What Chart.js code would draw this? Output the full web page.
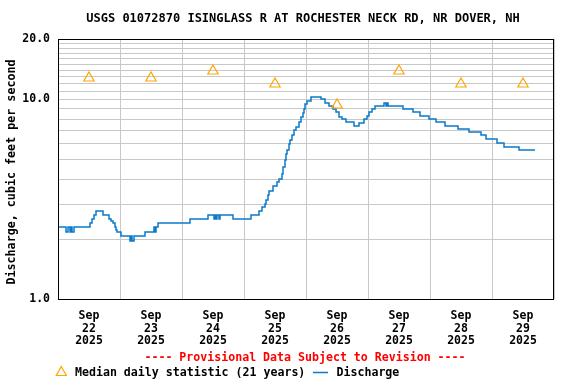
<!DOCTYPE html>
<html>
<head>
<meta charset="utf-8">
<script src="https://cdn.jsdelivr.net/npm/chart.js@4/dist/chart.umd.min.js"></script>
<style>
  html, body { margin: 0; padding: 0; background: #fff; }
  #wrap { width: 576px; height: 384px; }
</style>
</head>
<body>
<div id="wrap"><canvas id="chart" width="576" height="384"></canvas></div>
<script>
// hours since Sep 22 00:00, value holds until the next reading
const hours = [0, 3.1, 3.9, 4.6, 5.2, 5.6, 6.2, 12.4, 13.2, 13.9, 14.7, 17.4, 19.7, 20.5, 21.3, 22.1, 22.5, 23.0,
  24.2, 27.9, 28.4, 28.8, 29.4, 33.7, 37.2, 37.5, 37.9, 38.7, 51.1, 58.1, 60.4, 60.8, 61.2, 61.5, 62.3, 62.7,
  67.7, 74.7, 77.8, 79.0, 80.1, 80.5, 81.1, 81.7, 83.2, 84.7, 85.7, 86.7, 87.2, 87.8, 88.3, 88.6, 89.3, 89.8,
  90.6, 91.4, 92.1, 93.2, 94.0, 94.7, 95.2, 95.7, 96.5, 98.1, 101.7, 103.5, 105.0, 106.3, 107.6, 108.9, 109.9,
  111.5, 114.6, 116.4, 118.5, 119.5, 120.3, 121.5, 122.7, 126.2, 126.8, 127.2, 127.7, 133.4, 137.4, 140.1,
  143.5, 146.3, 149.7, 154.8, 159.2, 163.6, 165.7, 170.1, 172.6, 178.3, 184.5];
const discharge = [2.28, 2.16, 2.28, 2.16, 2.28, 2.16, 2.28, 2.39, 2.50, 2.64, 2.75, 2.62, 2.50, 2.45, 2.39, 2.28, 2.21, 2.16,
  2.07, 1.94, 2.07, 1.94, 2.07, 2.16, 2.28, 2.16, 2.28, 2.39, 2.50, 2.62, 2.50, 2.62, 2.50, 2.62, 2.50, 2.62,
  2.50, 2.62, 2.75, 2.88, 3.00, 3.13, 3.32, 3.48, 3.67, 3.85, 4.00, 4.22, 4.56, 4.96, 5.30, 5.56, 5.97, 6.24,
  6.64, 7.00, 7.28, 7.69, 8.10, 8.55, 8.95, 9.45, 9.80, 10.2, 9.98, 9.53, 9.22, 8.90, 8.60, 8.17, 7.93,
  7.69, 7.33, 7.60, 7.93, 8.23, 8.60, 8.90, 9.22, 9.53, 9.22, 9.53, 9.22, 8.90, 8.60, 8.23,
  7.93, 7.69, 7.33, 7.07, 6.85, 6.59, 6.34, 6.00, 5.74, 5.56, 5.56];

const medianHours = [12, 36, 60, 84, 108, 132, 156, 180];
const medianValues = [12.8, 12.8, 13.9, 11.9, 9.4, 13.9, 11.9, 11.9];

const dayLabels = [['Sep', '22', '2025'], ['Sep', '23', '2025'], ['Sep', '24', '2025'], ['Sep', '25', '2025'],
  ['Sep', '26', '2025'], ['Sep', '27', '2025'], ['Sep', '28', '2025'], ['Sep', '29', '2025']];
const yTickValues = [1, 2, 3, 4, 5, 6, 7, 8, 9, 10, 11, 12, 13, 14, 15, 16, 17, 18, 19, 20];
const yLabelled = { 1: '1.0', 10: '10.0', 20: '20.0' };

const FONT = "'DejaVu Sans Mono', 'Liberation Mono', monospace";
const BLUE = '#0a7ac8';
const ORANGE = '#ffa500';

Chart.defaults.font.family = FONT;
Chart.defaults.font.size = 11.5;
Chart.defaults.font.weight = 'bold';
Chart.defaults.color = '#000';

// titles, legend and frame
const decorations = {
  id: 'decorations',
  afterDraw(chart) {
    const ctx = chart.ctx;
    const a = chart.chartArea;
    ctx.save();
    ctx.strokeStyle = '#000';
    ctx.lineWidth = 1;
    ctx.strokeRect(a.left + 0.5, a.top + 0.5, a.right - a.left - 1, a.bottom - a.top);

    ctx.textBaseline = 'middle';
    ctx.fillStyle = '#000';
    ctx.textAlign = 'center';
    ctx.font = 'bold 12px ' + FONT;
    ctx.fillText('USGS 01072870 ISINGLASS R AT ROCHESTER NECK RD, NR DOVER, NH', 303, 19);

    ctx.font = 'bold 11.6px ' + FONT;
    ctx.fillStyle = '#ff0000';
    ctx.fillText('---- Provisional Data Subject to Revision ----', 305, 358);

    ctx.save();
    ctx.translate(12, 172);
    ctx.rotate(-Math.PI / 2);
    ctx.fillStyle = '#000';
    ctx.font = 'bold 11.7px ' + FONT;
    ctx.fillText('Discharge, cubic feet per second', 0, 0);
    ctx.restore();

    // legend
    ctx.textAlign = 'left';
    ctx.fillStyle = '#000';
    ctx.strokeStyle = ORANGE;
    ctx.lineWidth = 1.2;
    ctx.beginPath();
    ctx.moveTo(61.3, 366.5); ctx.lineTo(66.3, 375.5); ctx.lineTo(56.3, 375.5); ctx.closePath();
    ctx.stroke();
    ctx.fillText('Median daily statistic (21 years)', 75, 373);
    ctx.strokeStyle = BLUE;
    ctx.lineWidth = 1.5;
    ctx.beginPath();
    ctx.moveTo(313, 372.5); ctx.lineTo(328, 372.5);
    ctx.stroke();
    ctx.fillText('Discharge', 336.5, 373);
    ctx.restore();
  }
};

new Chart(document.getElementById('chart'), {
  type: 'line',
  data: {
    datasets: [
      {
        label: 'Median daily statistic (21 years)',
        data: medianHours.map((h, i) => ({ x: h, y: medianValues[i] })),
        showLine: false,
        pointStyle: 'triangle',
        pointRadius: 6,
        borderColor: ORANGE,
        backgroundColor: 'rgba(255,255,255,0)',
        pointBorderWidth: 1.2
      },
      {
        label: 'Discharge',
        data: hours.map((h, i) => ({ x: h, y: discharge[i] })),
        stepped: true,
        borderColor: BLUE,
        borderWidth: 1.5,
        pointRadius: 0,
        fill: false
      }
    ]
  },
  options: {
    responsive: false,
    animation: false,
    layout: { padding: { left: 0, right: 22, top: 39, bottom: 35 } },
    plugins: { legend: { display: false }, tooltip: { enabled: false } },
    scales: {
      x: {
        type: 'linear',
        min: 0,
        max: 192,
        position: 'bottom',
        alignToPixels: true,
        afterBuildTicks: (s) => { s.ticks = [0, 24, 48, 72, 96, 120, 144, 168, 192].map(v => ({ value: v })); },
        ticks: { display: false },
        grid: { color: '#c8c8c8', drawTicks: false },
        border: { display: false },
        afterFit: (s) => { s.height = 0; }
      },
      x2: {
        type: 'linear',
        min: 0,
        max: 192,
        position: 'bottom',
        afterBuildTicks: (s) => { s.ticks = medianHours.map(v => ({ value: v })); },
        ticks: {
          padding: 11,
          maxRotation: 0,
          autoSkip: false,
          font: { lineHeight: 1.087 },
          callback: (v, i) => dayLabels[i]
        },
        grid: { display: false, drawTicks: false },
        border: { display: false },
        afterFit: (s) => { s.height = 50; }
      },
      y: {
        type: 'logarithmic',
        min: 1,
        max: 20,
        alignToPixels: true,
        afterBuildTicks: (s) => { s.ticks = yTickValues.map(v => ({ value: v })); },
        ticks: {
          padding: 8,
          autoSkip: false,
          callback: (v) => yLabelled[v] || ''
        },
        grid: { color: '#c8c8c8', drawTicks: false },
        border: { display: false },
        afterFit: (s) => { s.width = 58; }
      }
    }
  },
  plugins: [decorations]
});
</script>
</body>
</html>
